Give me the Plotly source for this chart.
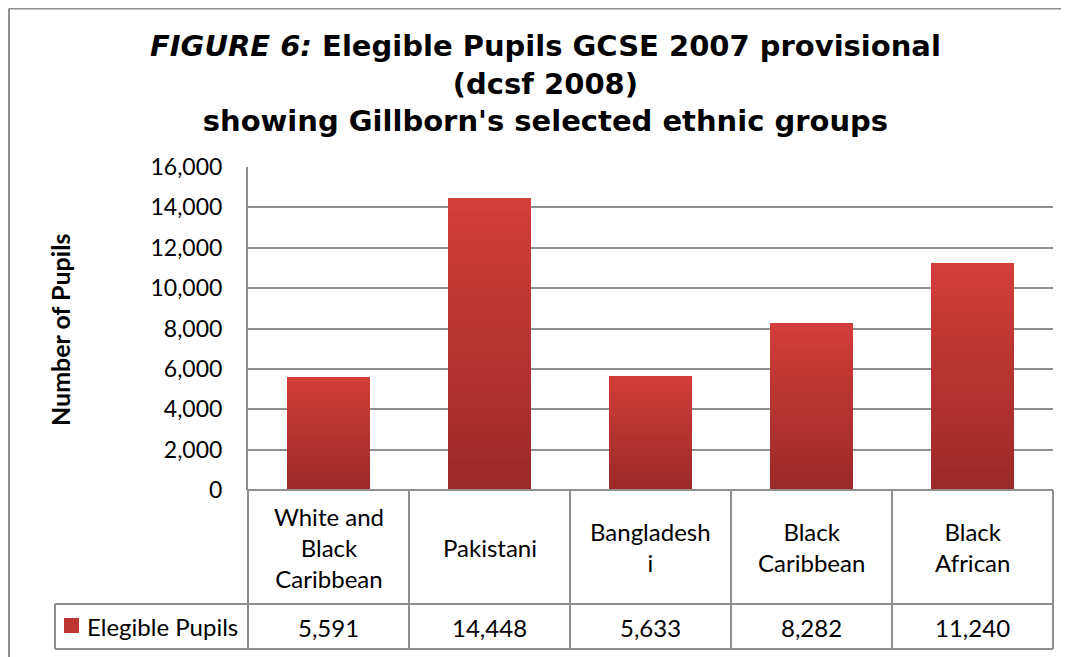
import plotly.graph_objects as go

categories = ["White and<br>Black<br>Caribbean", "Pakistani", "Bangladesh<br>i", "Black<br>Caribbean", "Black<br>African"]
values = [5591, 14448, 5633, 8282, 11240]
series_name = "Elegible Pupils"
y_ticks = [0, 2000, 4000, 6000, 8000, 10000, 12000, 14000, 16000]

W, H = 1069, 657
OFF = 8  # default page body margin
L, R, T, B = 248, 1053, 167, 490  # plot area in px (page coords)


def px_x(px):
    return (px - L) / (R - L)


def px_y(py):
    return (B - py) / (B - T)


n = len(categories)
xs = list(range(n))
N = 40
top = (210, 61, 57)
bot = (154, 42, 41)

fig = go.Figure()
for k in range(N):
    f = k / (N - 1)
    c = tuple(round(bot[i] + (top[i] - bot[i]) * f) for i in range(3))
    fig.add_trace(go.Bar(
        x=xs, y=[v / N for v in values], width=0.52,
        marker=dict(color="rgb(%d,%d,%d)" % c, line=dict(width=0)),
        showlegend=False, hoverinfo="skip" if k else "y",
        name=series_name,
    ))

fig.update_layout(
    barmode="stack",
    width=W - OFF, height=H - OFF,
    margin=dict(l=L - OFF, r=W - R, t=T - OFF, b=H - B, pad=0),
    paper_bgcolor="white", plot_bgcolor="white",
    font=dict(family="Lato, sans-serif", color="black"),
    xaxis=dict(range=[-0.5, n - 0.5], showticklabels=False, showgrid=False,
               zeroline=False, showline=False, fixedrange=True),
    yaxis=dict(range=[0, 16000], tickvals=y_ticks,
               ticktext=[f"{t:,}" for t in y_ticks],
               showgrid=True, gridcolor="#8f8f8f", gridwidth=2,
               zeroline=False, showline=True, linecolor="#8f8f8f", linewidth=2,
               ticks="", ticklabelstandoff=19,
               tickfont=dict(family="Lato, sans-serif", size=23, color="black")),
)

shapes = []
line = dict(color="#8f8f8f", width=2)
# outer chart border (top and left)
shapes.append(dict(type="line", xref="paper", yref="paper", x0=px_x(9), x1=px_x(W + 5),
                   y0=px_y(8.5), y1=px_y(8.5), line=line))
shapes.append(dict(type="line", xref="paper", yref="paper", x0=px_x(9), x1=px_x(9),
                   y0=px_y(8.5), y1=px_y(H + 5), line=line))
# data table
y_row1 = 0
y_row2 = px_y(604)
y_bot = px_y(649)
for i in range(n + 1):
    xp = i / n
    shapes.append(dict(type="line", xref="paper", yref="paper", x0=xp, x1=xp,
                       y0=y_row1, y1=y_bot, line=line))
shapes.append(dict(type="line", xref="paper", yref="paper", x0=0, x1=1,
                   y0=y_row1, y1=y_row1, line=line))
shapes.append(dict(type="line", xref="paper", yref="paper", x0=px_x(55), x1=1,
                   y0=y_row2, y1=y_row2, line=line))
shapes.append(dict(type="line", xref="paper", yref="paper", x0=px_x(55), x1=1,
                   y0=y_bot, y1=y_bot, line=line))
shapes.append(dict(type="line", xref="paper", yref="paper", x0=px_x(55), x1=px_x(55),
                   y0=y_row2, y1=y_bot, line=line))
# legend key
shapes.append(dict(type="rect", xref="paper", yref="paper", x0=px_x(64), x1=px_x(79),
                   y0=px_y(633), y1=px_y(618), fillcolor="#bd3633", line=dict(width=0)))
fig.update_layout(shapes=shapes)

ann = []
cell_font = dict(family="Lato, sans-serif", size=24, color="black")
for i, (c, v) in enumerate(zip(categories, values)):
    xc = (i + 0.5) / n
    ann.append(dict(xref="paper", yref="paper", x=xc, y=px_y(547), text=c, showarrow=False,
                    xanchor="center", yanchor="middle", font=cell_font, align="center"))
    ann.append(dict(xref="paper", yref="paper", x=xc, y=px_y(627), text=f"{v:,}", showarrow=False,
                    xanchor="center", yanchor="middle", font=cell_font))
ann.append(dict(xref="paper", yref="paper", x=px_x(85), y=px_y(626), text=series_name,
                showarrow=False, xanchor="left", yanchor="middle", font=cell_font))
ann.append(dict(xref="paper", yref="paper", x=px_x(60), y=px_y(330), text="<b>Number of Pupils</b>",
                showarrow=False, textangle=-90, xanchor="center", yanchor="middle",
                font=dict(family="Lato, sans-serif", size=25, color="black")))
ann.append(dict(xref="paper", yref="paper", x=px_x(545), y=px_y(84),
                text="<b><i>FIGURE 6:</i> Elegible Pupils GCSE 2007 provisional<br>(dcsf 2008)<br>showing Gillborn's selected ethnic groups</b>",
                showarrow=False, xanchor="center", yanchor="middle", align="center",
                font=dict(family="DejaVu Sans, sans-serif", size=29, color="black")))
fig.update_layout(annotations=ann)

fig.write_html("out.html")
